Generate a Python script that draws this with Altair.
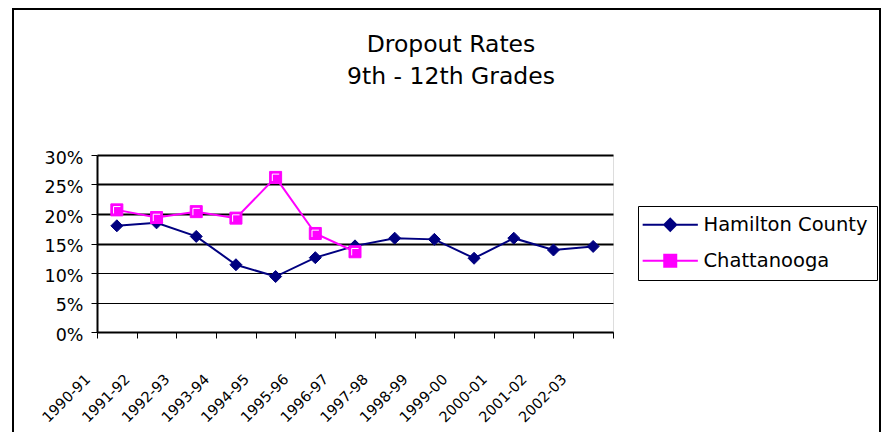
import altair as alt
import pandas as pd

years = ["1990-91", "1991-92", "1992-93", "1993-94", "1994-95", "1995-96", "1996-97",
         "1997-98", "1998-99", "1999-00", "2000-01", "2001-02", "2002-03"]
hamilton = [0.180, 0.185, 0.162, 0.114, 0.094, 0.126, 0.146,
            0.159, 0.157, 0.125, 0.159, 0.139, 0.145]
chattanooga = [0.207, 0.194, 0.204, 0.193, 0.262, 0.167, 0.136]
series_names = ["Hamilton County", "Chattanooga"]
series_colors = ["#000080", "#FF00FF"]
y_ticks = [0, 0.05, 0.10, 0.15, 0.20, 0.25, 0.30]

rows = []
for y, v in zip(years, hamilton):
    rows.append({"year": y, "rate": v, "series": series_names[0]})
for y, v in zip(years, chattanooga):
    rows.append({"year": y, "rate": v, "series": series_names[1]})
df = pd.DataFrame(rows)

FONT = "DejaVu Sans"

is_ham = "datum.value === 'Hamilton County'"
legend = alt.Legend(
    title=None,
    orient="none",
    legendX=541,
    legendY=51,
    padding=9,
    strokeColor="black",
    fillColor="white",
    symbolSize=144,
    symbolStrokeWidth=2,
    symbolOpacity=1,
    symbolType=alt.ExprRef(expr=f"{is_ham} ? 'M-4.6,0H4.6M0,-1L1,0L0,1L-1,0Z' : 'M-4.6,0H4.6M-1,-1H1V1H-1Z'"),
    symbolFillColor=alt.ExprRef(expr=f"{is_ham} ? '#000080' : '#FF00FF'"),
    symbolStrokeColor=alt.ExprRef(expr=f"{is_ham} ? '#000080' : '#FF00FF'"),
    symbolOffset=13.5,
    labelOffset=23.5,
    labelLimit=300,
    rowPadding=15,
    labelFont=FONT,
    labelFontSize=19.5,
    labelColor="black",
)

x_enc = alt.X(
    "year:N",
    sort=years,
    bandPosition=0.5,
    scale=alt.Scale(type="band", domain=years, paddingInner=0, paddingOuter=0),
    axis=alt.Axis(
        title=None,
        tickBand="extent",
        grid=False,
        domainColor="black",
        domainWidth=2,
        tickColor="black",
        tickWidth=1,
        tickSize=6,
        labelAngle=315,
        labelAlign="right",
        labelBaseline="middle",
        labelOffset=-29,
        labelPadding=39,
        labelFont=FONT,
        labelFontSize=14.5,
        labelColor="black",
    ),
)
y_enc = alt.Y(
    "rate:Q",
    scale=alt.Scale(domain=[0, 0.30], nice=False),
    axis=alt.Axis(
        title=None,
        values=y_ticks,
        format=".0%",
        grid=True,
        gridColor="black",
        gridWidth={"condition": {"test": "datum.value >= 0.15", "value": 2}, "value": 1},
        domainColor="black",
        domainWidth=2,
        tickColor="black",
        tickWidth=1,
        tickSize=6,
        labelPadding=8,
        labelOffset=3,
        labelFont=FONT,
        labelFontSize=17.5,
        labelColor="black",
    ),
)
color_enc = alt.Color(
    "series:N",
    scale=alt.Scale(domain=series_names, range=series_colors),
    legend=legend,
)

base = alt.Chart(df).encode(x=x_enc, y=y_enc, color=color_enc)

layers = []
frame = alt.Chart(pd.DataFrame({"k": [0]})).mark_rect(
    fill="white", fillOpacity=0, stroke="black", strokeWidth=2
).encode(x=alt.value(-84), x2=alt.value(783), y=alt.value(-146), y2=alt.value(330))
layers.append(frame)

shapes = ["diamond", "square"]
for name, shp in zip(series_names, shapes):
    sub = base.transform_filter(alt.datum.series == name)
    layers.append(sub.mark_line(strokeWidth=2))
    layers.append(sub.mark_point(shape=shp, filled=True, size=144, opacity=1,
                                 stroke=series_colors[series_names.index(name)], strokeWidth=1))
    if shp == "square":
        layers.append(
            alt.Chart(df).transform_filter(alt.datum.series == name).mark_point(
                shape="M-0.55,0.6V-0.55H0.6", filled=False, stroke="white",
                strokeWidth=1, size=144, opacity=1
            ).encode(x=x_enc, y=y_enc)
        )

chart = alt.layer(*layers).properties(
    width=516,
    height=177,
    autosize=alt.AutoSizeParams(type="none"),
    padding={"left": 89, "top": 147, "right": 269, "bottom": 100},
    title=alt.TitleParams(
        text=["Dropout Rates", "9th - 12th Grades"],
        font=FONT,
        fontSize=23.5,
        fontWeight="normal",
        color="black",
        anchor="middle",
        frame="group",
        dx=96,
        offset=-80,
        lineHeight=32,
    ),
).configure_view(
    fill="#C0C0C0", stroke="#808080", strokeWidth=2
).configure_legend(
    strokeWidth=2
).configure(background="white")

chart.save("out.html", embed_options={"renderer": "svg", "actions": False})
